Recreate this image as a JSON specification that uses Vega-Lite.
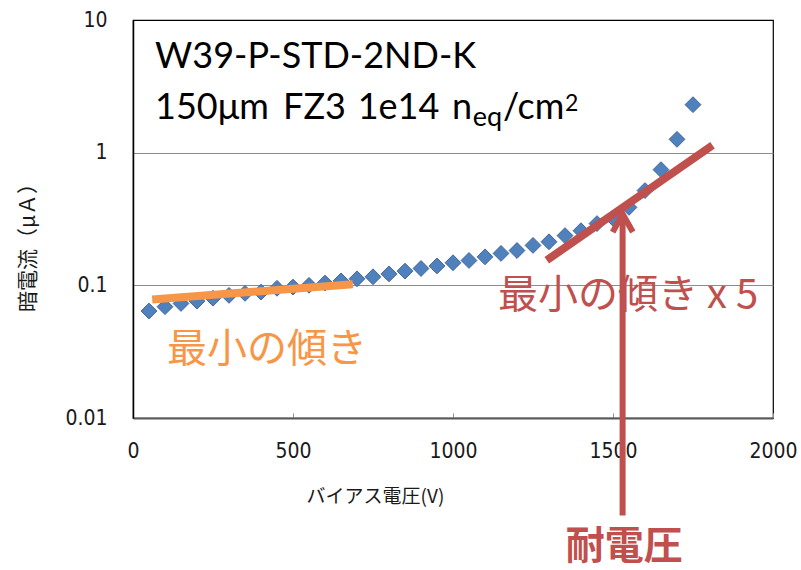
{
  "$schema": "https://vega.github.io/schema/vega-lite/v6.json",
  "width": 640,
  "height": 398,
  "autosize": "none",
  "padding": {"left": 133, "top": 20, "right": 28, "bottom": 152},
  "background": "white",
  "config": {
    "view": {"stroke": "#000000", "strokeWidth": 1.2},
    "text": {"font": "Noto Sans CJK JP"}
  },
  "encoding": {
    "x": {
      "field": "v",
      "type": "quantitative",
      "scale": {"domain": [0, 2000], "nice": false, "zero": false},
      "axis": {
        "values": [0, 500, 1000, 1500, 2000],
        "format": "d",
        "title": "バイアス電圧(V)",
        "grid": false,
        "domainColor": "#595959",
        "domainWidth": 2,
        "ticks": true,
        "tickColor": "#909090",
        "tickSize": -5,
        "tickWidth": 1,
        "labelFont": "Liberation Sans Narrow, DejaVu Sans Condensed, Liberation Sans",
        "labelFontSize": 21,
        "labelColor": "#1a1a1a",
        "labelPadding": 27,
        "labelFlush": false,
        "labelOverlap": false,
        "titleFont": "Noto Sans CJK JP",
        "titleFontSize": 19,
        "titleFontWeight": "normal",
        "titleColor": "#1a1a1a",
        "titleX": 242,
        "titleY": 78,
        "titleBaseline": "middle",
        "titleAlign": "center"
      }
    },
    "y": {
      "field": "i",
      "type": "quantitative",
      "scale": {"type": "log", "domain": [0.01, 10], "nice": false},
      "axis": {
        "values": [0.01, 0.1, 1, 10],
        "format": "~g",
        "title": "暗電流（μＡ）",
        "grid": true,
        "gridColor": "#8c8c8c",
        "gridWidth": 1,
        "gridOpacity": {"condition": {"test": "datum.value > 0.05 && datum.value < 5", "value": 1}, "value": 0},
        "domainColor": "#000000",
        "domainWidth": 1.5,
        "ticks": false,
        "labelFont": "Liberation Sans Narrow, DejaVu Sans Condensed, Liberation Sans",
        "labelFontSize": 21,
        "labelColor": "#1a1a1a",
        "labelPadding": 26,
        "labelFlush": false,
        "labelOverlap": false,
        "titleFont": "Noto Sans CJK JP",
        "titleFontSize": 21,
        "titleFontWeight": "normal",
        "titleColor": "#1a1a1a",
        "titleAngle": -90,
        "titleX": -105,
        "titleY": 222,
        "titleBaseline": "middle",
        "titleAlign": "center"
      }
    }
  },
  "layer": [
    {
      "data": {"values": [
        {"v": 50, "i": 0.064}, {"v": 100, "i": 0.069}, {"v": 150, "i": 0.073},
        {"v": 200, "i": 0.076}, {"v": 250, "i": 0.080}, {"v": 300, "i": 0.084},
        {"v": 350, "i": 0.087}, {"v": 400, "i": 0.089}, {"v": 450, "i": 0.095},
        {"v": 500, "i": 0.097}, {"v": 550, "i": 0.100}, {"v": 600, "i": 0.104},
        {"v": 650, "i": 0.108}, {"v": 700, "i": 0.112}, {"v": 750, "i": 0.116},
        {"v": 800, "i": 0.122}, {"v": 850, "i": 0.128}, {"v": 900, "i": 0.134},
        {"v": 950, "i": 0.140}, {"v": 1000, "i": 0.148}, {"v": 1050, "i": 0.154},
        {"v": 1100, "i": 0.164}, {"v": 1150, "i": 0.174}, {"v": 1200, "i": 0.183},
        {"v": 1250, "i": 0.200}, {"v": 1300, "i": 0.213}, {"v": 1350, "i": 0.237},
        {"v": 1400, "i": 0.258}, {"v": 1450, "i": 0.292}, {"v": 1500, "i": 0.320},
        {"v": 1550, "i": 0.387}, {"v": 1600, "i": 0.518}, {"v": 1650, "i": 0.745},
        {"v": 1700, "i": 1.26}, {"v": 1750, "i": 2.30}
      ]},
      "mark": {"type": "point", "shape": "diamond", "filled": true, "size": 250, "color": "#4F81BD", "stroke": "#46659a", "strokeWidth": 1, "opacity": 1, "clip": false}
    },
    {
      "data": {"values": [{"v": 60, "i": 0.0783}, {"v": 687, "i": 0.1018}]},
      "mark": {"type": "line", "color": "#F79646", "strokeWidth": 8, "strokeCap": "butt", "clip": false}
    },
    {
      "data": {"values": [{"v": 1293, "i": 0.1546}, {"v": 1811, "i": 1.136}]},
      "mark": {"type": "line", "color": "#C0504D", "strokeWidth": 8, "strokeCap": "butt", "clip": false}
    },
    {
      "data": {"values": [
        {"v": 69, "i": 4.33, "label": "W39-P-STD-2ND-K"},
        {"v": 69, "i": 1.80, "label": "150μm"},
        {"v": 469, "i": 1.80, "label": "FZ3"},
        {"v": 702, "i": 1.80, "label": "1e14"},
        {"v": 997, "i": 1.80, "label": "n"},
        {"v": 1156, "i": 1.80, "label": "/cm"}
      ]},
      "mark": {"type": "text", "font": "Lato", "fontSize": 36, "align": "left", "baseline": "alphabetic", "color": "#000000", "clip": false},
      "encoding": {"text": {"field": "label"}}
    },
    {
      "data": {"values": [{"v": 1062, "i": 1.60, "label": "eq"}]},
      "mark": {"type": "text", "font": "Lato", "fontSize": 27, "align": "left", "baseline": "alphabetic", "color": "#000000", "clip": false},
      "encoding": {"text": {"field": "label"}}
    },
    {
      "data": {"values": [{"v": 1350, "i": 2.05, "label": "2"}]},
      "mark": {"type": "text", "font": "Lato", "fontSize": 23, "align": "left", "baseline": "alphabetic", "color": "#000000", "clip": false},
      "encoding": {"text": {"field": "label"}}
    },
    {
      "data": {"values": [{"v": 106, "i": 0.0266, "label": "最小の傾き"}]},
      "mark": {"type": "text", "fontSize": 40, "align": "left", "baseline": "alphabetic", "color": "#F79646", "clip": false},
      "encoding": {"text": {"field": "label"}}
    },
    {
      "data": {"values": [{"v": 1141, "i": 0.068, "label": "最小の傾き x 5"}]},
      "mark": {"type": "text", "fontSize": 40, "align": "left", "baseline": "alphabetic", "color": "#C0504D", "clip": false},
      "encoding": {"text": {"field": "label"}}
    },
    {
      "data": {"values": [{"v": 1535, "i": 0.00087, "label": "耐電圧"}]},
      "mark": {"type": "text", "fontSize": 39, "fontWeight": "bold", "align": "center", "baseline": "alphabetic", "color": "#C0504D", "clip": false},
      "encoding": {"text": {"field": "label"}}
    },
    {
      "data": {"values": [{"v": 1530, "i": 0.00184}, {"v": 1530, "i": 0.345}]},
      "mark": {"type": "line", "color": "#C0504D", "strokeWidth": 6, "strokeCap": "butt", "clip": false}
    },
    {
      "data": {"values": [{"v": 1499, "i": 0.252}, {"v": 1530, "i": 0.345}, {"v": 1562, "i": 0.252}]},
      "mark": {"type": "line", "color": "#C0504D", "strokeWidth": 6, "strokeCap": "butt", "strokeJoin": "miter", "clip": false}
    }
  ]
}
